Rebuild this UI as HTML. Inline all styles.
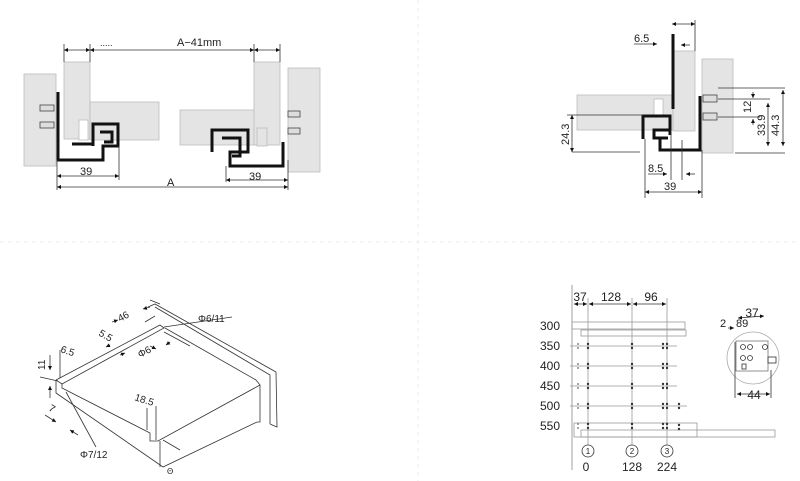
<!DOCTYPE html>
<html><head><meta charset="utf-8"><style>
html,body{margin:0;padding:0;background:#fff}
svg{display:block}
text{font-family:"Liberation Sans",sans-serif;fill:#222}
</style></head><body>
<svg width="800" height="481" viewBox="0 0 800 481" xmlns="http://www.w3.org/2000/svg">
<defs>
<marker id="a" viewBox="0 0 10 10" refX="10" refY="5" markerWidth="5" markerHeight="5" orient="auto-start-reverse"><path d="M0,0L10,5L0,10z" fill="#111"/></marker>
</defs>
<line x1="418" y1="0" x2="418" y2="481" stroke="#eee" stroke-dasharray="4,4"/>
<line x1="0" y1="242" x2="800" y2="242" stroke="#eee" stroke-dasharray="4,4"/>

<!-- Q1 -->
<g stroke="#bbb" stroke-width="0.8" fill="#e4e4e4">
<rect x="24" y="74" width="32" height="92"/>
<rect x="64" y="62" width="26" height="77"/>
<rect x="90" y="102" width="69" height="38"/>
<rect x="180" y="110" width="75" height="35"/>
<rect x="254" y="62" width="26" height="83"/>
<rect x="288" y="68" width="32" height="104"/>
<rect x="79" y="120" width="9" height="20" fill="#fff"/>
<rect x="257" y="128" width="10" height="18"/>
</g>
<g stroke="#444" stroke-width="0.8" fill="#ddd">
<rect x="40" y="105" width="14" height="6"/><rect x="40" y="122" width="14" height="6"/>
<rect x="288" y="111" width="12" height="6"/><rect x="288" y="128" width="12" height="6"/>
</g>
<g fill="none" stroke="#111" stroke-width="3">
<polyline points="58,92 58,160 103,160 103,146 118,146 118,124 93,124 93,146"/>
<polyline points="72,144 92,144"/>
<polyline points="100,132 112,132 112,142 104,142"/>
<polyline points="283,142 283,166 230,166 230,152 248,152 248,130 212,130 212,152"/>
<polyline points="222,138 240,138 240,156 232,156"/>
</g>
<g stroke="#333" stroke-width="0.8" fill="none">
<line x1="64" y1="44" x2="64" y2="62"/><line x1="90" y1="44" x2="90" y2="62"/>
<line x1="254" y1="44" x2="254" y2="62"/><line x1="280" y1="44" x2="280" y2="62"/>
<line x1="64" y1="50" x2="90" y2="50" marker-start="url(#a)" marker-end="url(#a)"/>
<line x1="90" y1="50" x2="254" y2="50" marker-start="url(#a)" marker-end="url(#a)"/>
<line x1="254" y1="50" x2="280" y2="50" marker-start="url(#a)" marker-end="url(#a)"/>
<line x1="57" y1="160" x2="57" y2="190"/><line x1="119" y1="146" x2="119" y2="180"/>
<line x1="288" y1="160" x2="288" y2="190"/><line x1="226" y1="166" x2="226" y2="182"/>
<line x1="57" y1="176" x2="119" y2="176" marker-start="url(#a)" marker-end="url(#a)"/>
<line x1="226" y1="180" x2="288" y2="180" marker-start="url(#a)" marker-end="url(#a)"/>
<line x1="57" y1="187" x2="288" y2="187" marker-start="url(#a)" marker-end="url(#a)"/>
</g>
<text x="177" y="46" font-size="11">A−41mm</text>
<text x="100" y="46" font-size="9">.....</text>
<text x="80" y="175" font-size="11">39</text>
<text x="249" y="180" font-size="11">39</text>
<text x="167" y="186" font-size="11">A</text>

<!-- Q2 -->
<g stroke="#bbb" stroke-width="0.8" fill="#e4e4e4">
<rect x="702" y="59" width="31" height="94"/>
<rect x="577" y="95" width="96" height="35"/>
<rect x="673" y="51" width="22" height="80"/>
<rect x="654" y="99" width="9" height="16" fill="#fff"/>
</g>
<g stroke="#444" stroke-width="0.8" fill="#ddd">
<rect x="703" y="95" width="14" height="7"/><rect x="703" y="113" width="14" height="7"/>
</g>
<g fill="none" stroke="#111" stroke-width="3">
<line x1="673" y1="34" x2="673" y2="109"/>
<polyline points="700,96 700,150 660,150 660,138 668,138"/>
<polyline points="643,139 643,116 670,116 670,130 654,130 654,138 660,138"/>
<line x1="670" y1="130" x2="670" y2="135"/>
</g>
<g stroke="#333" stroke-width="0.8" fill="none">
<line x1="672" y1="24" x2="695" y2="24" marker-start="url(#a)" marker-end="url(#a)"/>
<line x1="695" y1="20" x2="695" y2="51"/>
<line x1="634" y1="44" x2="657" y2="44" marker-end="url(#a)"/>
<line x1="681" y1="45" x2="690" y2="45" marker-start="url(#a)"/>
<line x1="567" y1="115" x2="643" y2="115"/>
<line x1="572" y1="152" x2="640" y2="152"/>
<line x1="572" y1="115" x2="572" y2="152" marker-start="url(#a)" marker-end="url(#a)"/>
<line x1="645" y1="139" x2="645" y2="198"/><line x1="702" y1="150" x2="702" y2="198"/>
<line x1="645" y1="192" x2="702" y2="192" marker-start="url(#a)" marker-end="url(#a)"/>
<line x1="671" y1="130" x2="671" y2="180"/><line x1="682" y1="140" x2="682" y2="180"/>
<line x1="648" y1="174" x2="667" y2="174" marker-end="url(#a)"/>
<line x1="686" y1="174" x2="695" y2="174" marker-start="url(#a)"/>
<line x1="718" y1="88" x2="785" y2="88"/><line x1="718" y1="99" x2="770" y2="99"/>
<line x1="718" y1="117" x2="760" y2="117"/><line x1="735" y1="153" x2="785" y2="153"/>
<line x1="753" y1="92" x2="753" y2="98" marker-end="url(#a)"/>
<line x1="753" y1="125" x2="753" y2="119" marker-end="url(#a)"/>
<line x1="768" y1="103" x2="768" y2="146" marker-start="url(#a)" marker-end="url(#a)"/>
<line x1="783" y1="90" x2="783" y2="146" marker-start="url(#a)" marker-end="url(#a)"/>
</g>
<text x="634" y="42" font-size="11">6.5</text>
<text x="648" y="172" font-size="11">8.5</text>
<text x="664" y="190" font-size="11">39</text>
<text font-size="11" transform="translate(569,145) rotate(-90)">24.3</text>
<text font-size="11" transform="translate(751,113) rotate(-90)">12</text>
<text font-size="11" transform="translate(765,136) rotate(-90)">33.9</text>
<text font-size="11" transform="translate(779,136) rotate(-90)">44.3</text>

<!-- Q3 isometric -->
<g stroke="#333" stroke-width="0.8" fill="none">
<polyline points="148,307 155,304 276,372 277,427 270,424"/>
<polyline points="155,307 270,375 270,424"/>
<polyline points="56,380 160,325 164,328 62,384 56,380"/>
<polyline points="56,380 56,393 163,467 257,422 260,422 260,385 256,380"/>
<polyline points="62,384 62,388 150,433 150,441 158,441 260,385"/>
<line x1="160" y1="441" x2="160" y2="467"/>
<line x1="165" y1="328" x2="256" y2="380"/>
<line x1="150" y1="300" x2="160" y2="304"/><line x1="145" y1="322" x2="155" y2="316"/>
<line x1="60" y1="350" x2="60" y2="378"/>
<line x1="164" y1="327" x2="232" y2="317"/>
<line x1="164" y1="332" x2="190" y2="346"/>
<line x1="40" y1="377" x2="58" y2="381"/>
<line x1="66" y1="392" x2="96" y2="447"/>
<line x1="147" y1="408" x2="147" y2="430"/><line x1="156" y1="406" x2="156" y2="440"/>
<line x1="163" y1="440" x2="180" y2="450"/>
<line x1="50" y1="355" x2="50" y2="370" marker-end="url(#a)"/>
<line x1="50" y1="398" x2="50" y2="386" marker-end="url(#a)"/>
<line x1="45" y1="415" x2="56" y2="422" marker-end="url(#a)"/>
<line x1="78" y1="435" x2="70" y2="430" marker-end="url(#a)"/>
<line x1="112" y1="322" x2="118" y2="320" marker-end="url(#a)"/>
<line x1="110" y1="345" x2="106" y2="347" marker-end="url(#a)"/>
<line x1="120" y1="355" x2="125" y2="353" marker-end="url(#a)"/>
<line x1="150" y1="307" x2="143" y2="309" marker-end="url(#a)"/>
<line x1="170" y1="342" x2="166" y2="345" marker-end="url(#a)"/>
<line x1="150" y1="346" x2="156" y2="349" marker-end="url(#a)"/>
</g>
<text font-size="10" x="198" y="322">Φ6/11</text>
<text font-size="10" x="80" y="458">Φ7/12</text>
<text font-size="10" transform="translate(120,322) rotate(-28)">46</text>
<text font-size="10" transform="translate(98,335) rotate(30)">5.5</text>
<text font-size="10" transform="translate(140,358) rotate(-28)">Φ6</text>
<text font-size="10" transform="translate(60,352) rotate(18)">6.5</text>
<text font-size="10" transform="translate(45,370) rotate(-90)">11</text>
<text font-size="10" transform="translate(48,410) rotate(30)">7</text>
<text font-size="10" transform="translate(134,400) rotate(18)">18.5</text>
<text font-size="8" x="167" y="474">Θ</text>

<!-- Q4 -->
<line x1="572" y1="285" x2="572" y2="470" stroke="#888" stroke-width="0.8"/>
<g font-size="12">
<text x="540" y="330">300</text><text x="540" y="350">350</text><text x="540" y="370">400</text>
<text x="540" y="390">450</text><text x="540" y="410">500</text><text x="540" y="430">550</text>
</g>
<g stroke="#999" stroke-width="0.8" fill="none">
<rect x="572" y="322" width="113" height="7"/><rect x="581" y="330" width="105" height="6"/>
<rect x="574" y="423" width="123" height="14"/><rect x="581" y="430" width="194" height="7"/>
<line x1="570" y1="346" x2="677" y2="346"/><line x1="570" y1="366" x2="677" y2="366"/>
<line x1="570" y1="386" x2="677" y2="386"/><line x1="570" y1="406" x2="687" y2="406"/>
<line x1="588" y1="298" x2="588" y2="445"/><line x1="632" y1="298" x2="632" y2="445"/>
<line x1="667" y1="298" x2="667" y2="445"/>
</g>
<g fill="#333">
<g id="r"><circle cx="588" cy="344" r="1.2"/><circle cx="588" cy="348" r="1.2"/><circle cx="632" cy="344" r="1.2"/><circle cx="632" cy="348" r="1.2"/><circle cx="667" cy="344" r="1.2"/><circle cx="667" cy="348" r="1.2"/><circle cx="663" cy="344" r="1.2"/><circle cx="663" cy="348" r="1.2"/><circle cx="578" cy="344" r="1" fill="#888"/><circle cx="578" cy="348" r="1" fill="#888"/></g>
<use href="#r" y="20"/><use href="#r" y="40"/><use href="#r" y="60"/><use href="#r" y="80"/>
<circle cx="679" cy="404" r="1.2"/><circle cx="679" cy="408" r="1.2"/>
<circle cx="679" cy="425" r="1.2"/><circle cx="679" cy="429" r="1.2"/>
</g>
<g stroke="#333" stroke-width="0.8" fill="none">
<line x1="574" y1="304" x2="587" y2="304" marker-start="url(#a)" marker-end="url(#a)"/>
<line x1="589" y1="304" x2="631" y2="304" marker-start="url(#a)" marker-end="url(#a)"/>
<line x1="633" y1="304" x2="666" y2="304" marker-start="url(#a)" marker-end="url(#a)"/>
<circle cx="588" cy="451" r="6"/><circle cx="632" cy="451" r="6"/><circle cx="667" cy="451" r="6"/>
<circle cx="753" cy="358" r="26" stroke="#aaa"/>
<rect x="736" y="341" width="32" height="30" stroke="#777"/>
<circle cx="743" cy="347" r="2.5"/><circle cx="750" cy="347" r="2.5"/><circle cx="765" cy="347" r="2.5"/>
<circle cx="743" cy="358" r="2.5"/><circle cx="750" cy="358" r="2.5"/>
<rect x="742" y="364" width="4" height="5"/><rect x="768" y="357" width="8" height="6"/>
<line x1="735" y1="342" x2="735" y2="398"/><line x1="771" y1="370" x2="771" y2="398"/>
<line x1="737" y1="394" x2="770" y2="394" marker-start="url(#a)" marker-end="url(#a)"/>
<line x1="738" y1="318" x2="764" y2="316" marker-start="url(#a)" marker-end="url(#a)"/>
<line x1="728" y1="328" x2="734" y2="328" marker-end="url(#a)"/>
</g>
<g font-size="12" text-anchor="middle">
<text x="580" y="301">37</text><text x="611" y="301">128</text><text x="651" y="301">96</text>
<text x="586" y="471">0</text><text x="632" y="471">128</text><text x="667" y="471">224</text>
<text x="752" y="317">37</text><text x="754" y="399">44</text>
</g>
<g font-size="8" text-anchor="middle"><text x="588" y="454">1</text><text x="632" y="454">2</text><text x="667" y="454">3</text></g>
<text x="720" y="327" font-size="11">2</text><text x="736" y="327" font-size="11">89</text>
</svg>
</body></html>
